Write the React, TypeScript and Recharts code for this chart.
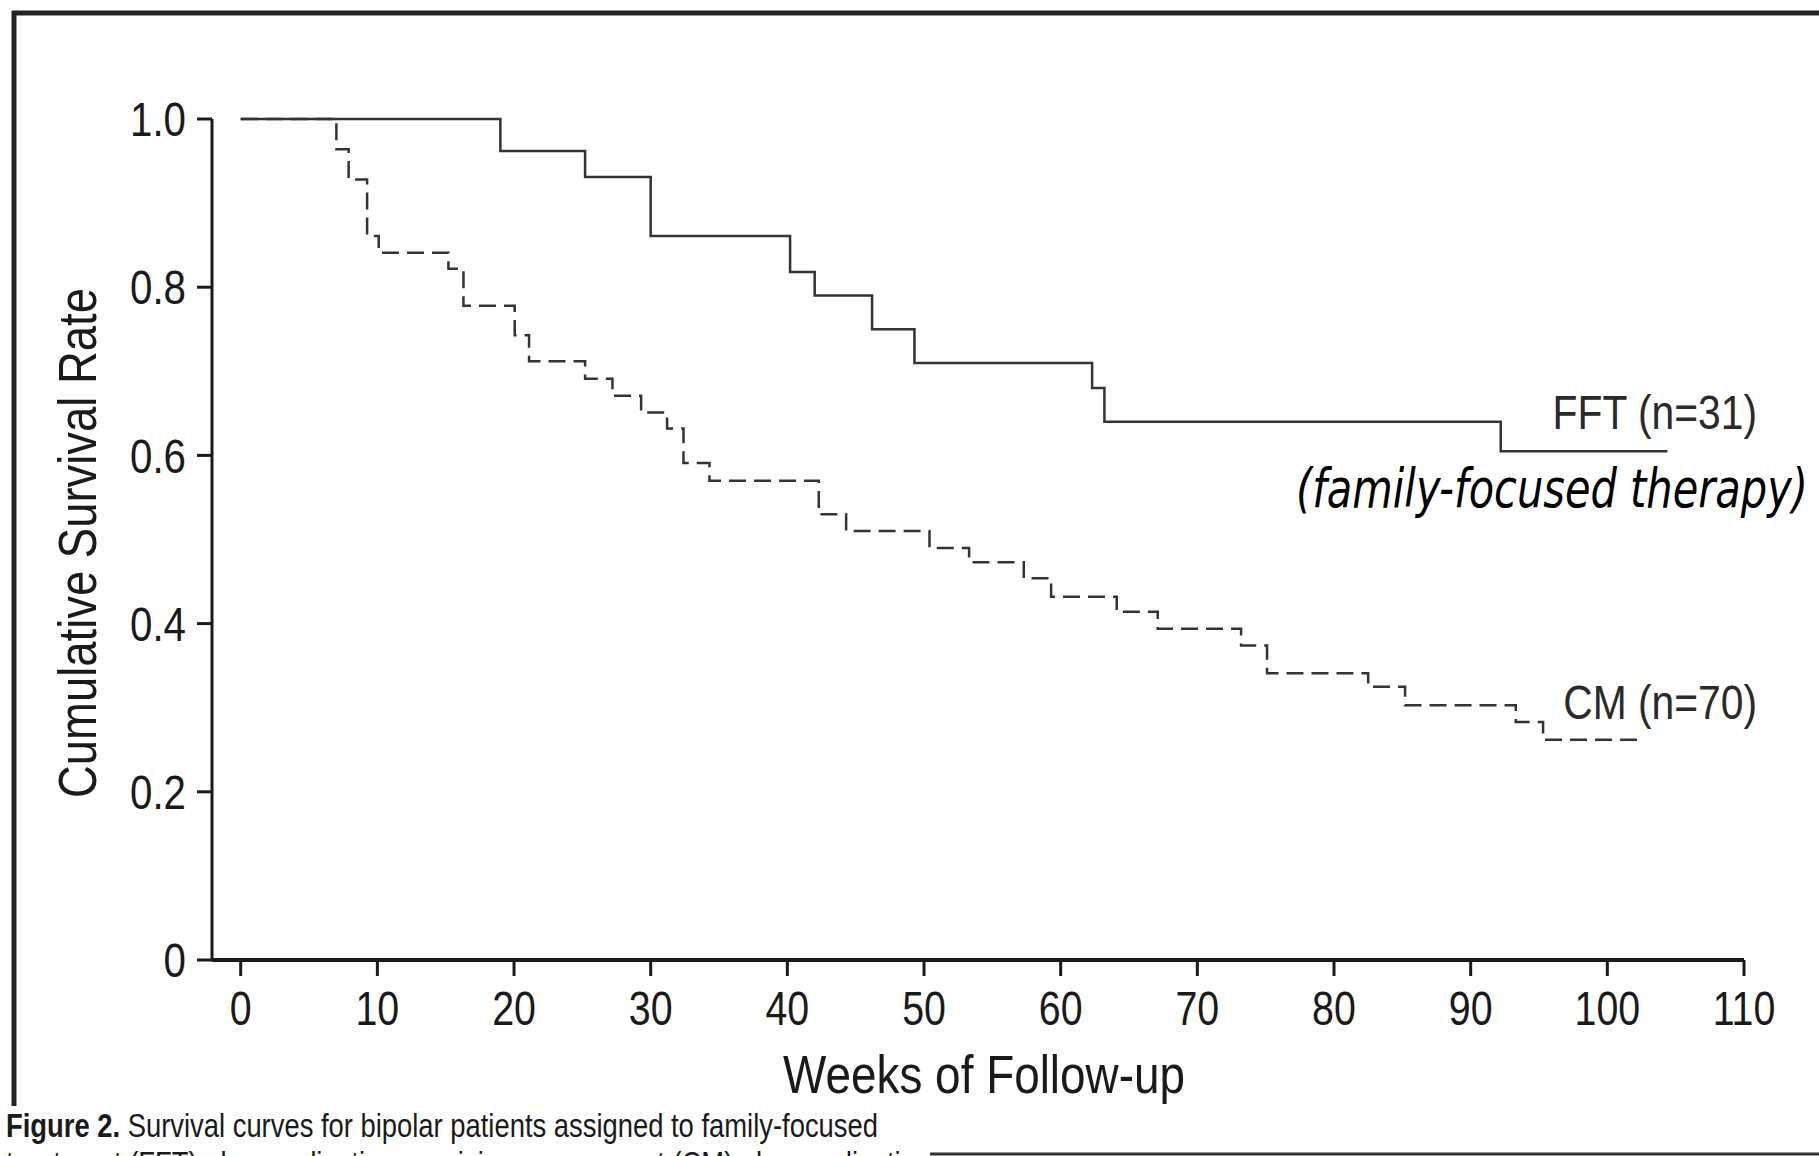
import { LineChart, Line, XAxis, YAxis } from 'recharts';

// Kaplan-Meier steps (weeks, cumulative survival)
const fftWeeks = [0, 19, 25.2, 30, 40.2, 42, 46.2, 49.3, 62.3, 63.2, 92.2, 104.4];
const fftSurvival = [1, 0.962, 0.931, 0.861, 0.818, 0.79, 0.75, 0.71, 0.68, 0.64, 0.605, 0.605];

const cmWeeks = [0, 7, 7.9, 9.25, 10.1, 15.2, 16.3, 20.05, 21.1, 25.2, 27.2, 29.3, 31.2, 32.4, 34.3, 42.3, 44.3, 50.4, 53.3, 57.3, 59.3, 64.1, 67.1, 73.2, 75.1, 82.5, 85.2, 93.3, 95.3, 102.6];
const cmSurvival = [1, 0.964, 0.928, 0.861, 0.841, 0.822, 0.778, 0.743, 0.712, 0.691, 0.671, 0.651, 0.632, 0.591, 0.57, 0.53, 0.51, 0.49, 0.473, 0.454, 0.432, 0.414, 0.394, 0.374, 0.341, 0.325, 0.303, 0.283, 0.262, 0.262];

const xTicks = [0, 10, 20, 30, 40, 50, 60, 70, 80, 90, 100, 110];
const yTicks = [0, 0.2, 0.4, 0.6, 0.8, 1.0];

const fftData = fftWeeks.map((w, i) => ({ week: w, survival: fftSurvival[i] }));
const cmData = cmWeeks.map((w, i) => ({ week: w, survival: cmSurvival[i] }));

const sans = "'Liberation Sans', Arial, sans-serif";
const ink = '#1a1a1a';
const lineInk = '#333';

// condensed look: regular sans squeezed horizontally
function Narrow({ x, y, anchor = 'start', size, sx = 0.82, fill = ink, children }: any) {
  return (
    <g transform={`translate(${x},${y})`}>
      <text transform={`scale(${sx},1)`} textAnchor={anchor} fontFamily={sans} fontSize={size} fill={fill}>
        {children}
      </text>
    </g>
  );
}

const XTick = ({ x, y, payload }: any) => (
  <g transform={`translate(${x},${y})`}>
    <text transform="scale(0.82,1)" textAnchor="middle" dy="0.72em" fontFamily={sans} fontSize={48} fill={ink}>
      {payload.value}
    </text>
  </g>
);

const YTick = ({ x, y, payload }: any) => (
  <g transform={`translate(${x},${y})`}>
    <text transform="scale(0.84,1)" textAnchor="end" dy="0.36em" fontFamily={sans} fontSize={48} fill={ink}>
      {payload.value === 0 ? '0' : Number(payload.value).toFixed(1)}
    </text>
  </g>
);

export default function App() {
  return (
    <div style={{ position: 'fixed', left: 0, top: 0, width: 1819, height: 1156, overflow: 'hidden', background: '#fff' }}>
      <div style={{ position: 'absolute', left: 0, top: 0 }}>
        <LineChart width={1819} height={1156} margin={{ top: 119, right: 75, bottom: 116, left: 62 }}>
          <XAxis
            type="number"
            dataKey="week"
            domain={[-2.1, 110]}
            ticks={xTicks}
            allowDataOverflow
            height={80}
            axisLine={{ stroke: ink, strokeWidth: 4 }}
            tickLine={{ stroke: ink, strokeWidth: 3 }}
            tickSize={16}
            tickMargin={14}
            tick={<XTick />}
          />
          <YAxis
            type="number"
            domain={[0, 1]}
            ticks={yTicks}
            width={150}
            axisLine={{ stroke: ink, strokeWidth: 3 }}
            tickLine={{ stroke: ink, strokeWidth: 3 }}
            tickSize={15}
            tickMargin={11}
            tick={<YTick />}
          />
          <Line data={fftData} dataKey="survival" type="stepAfter" stroke={lineInk} strokeWidth={2.5} dot={false} activeDot={false} isAnimationActive={false} />
          <Line data={cmData} dataKey="survival" type="stepAfter" stroke={lineInk} strokeWidth={2.5} strokeDasharray="17 8" dot={false} activeDot={false} isAnimationActive={false} />
        </LineChart>
      </div>
      <svg width={1819} height={1156} style={{ position: 'absolute', left: 0, top: 0, pointerEvents: 'none' }}>
        {/* frame */}
        <line x1={12} y1={13} x2={1819} y2={13} stroke="#222" strokeWidth={5} />
        <line x1={14} y1={11} x2={14} y2={1106} stroke="#222" strokeWidth={5} />
        {/* axis titles */}
        <text x={984} y={1093} textAnchor="middle" fontFamily={sans} fontSize={54} fill={ink} textLength={402} lengthAdjust="spacingAndGlyphs">Weeks of Follow-up</text>
        <text transform="translate(96,543) rotate(-90)" textAnchor="middle" fontFamily={sans} fontSize={54} fill={ink} textLength={510} lengthAdjust="spacingAndGlyphs">Cumulative Survival Rate</text>
        {/* series labels */}
        <Narrow x={1757} y={429} anchor="end" size={48} sx={0.85} fill="#2a2a2a">FFT (n=31)</Narrow>
        <text x={1296} y={507} fontFamily="'DejaVu Sans', sans-serif" fontStyle="italic" fontSize={54} fill="#000" textLength={512} lengthAdjust="spacingAndGlyphs">(family-focused therapy)</text>
        <Narrow x={1757} y={719} anchor="end" size={48} sx={0.85} fill="#2a2a2a">CM (n=70)</Narrow>
        {/* caption */}
        <Narrow x={6} y={1137} size={33} sx={0.83}>
          <tspan fontWeight="bold">Figure 2.</tspan> Survival curves for bipolar patients assigned to family-focused
        </Narrow>
        <Narrow x={6} y={1175} size={33} sx={0.83}>treatment (FFT) plus medication or crisis management (CM) plus medication</Narrow>
        <line x1={930} y1={1154} x2={1819} y2={1154} stroke="#333" strokeWidth={3} />
      </svg>
    </div>
  );
}
